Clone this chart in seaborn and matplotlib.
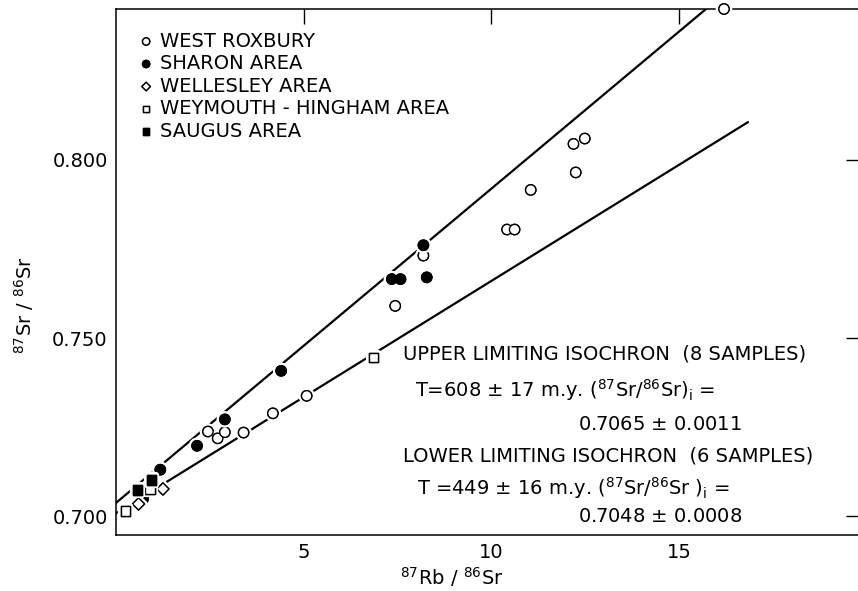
import numpy as np
import pandas as pd
import matplotlib
matplotlib.use('Agg')
import matplotlib.pyplot as plt
import matplotlib.patheffects as pe
from matplotlib.ticker import FormatStrFormatter
import seaborn as sns

# ---- data (87Rb/86Sr, 87Sr/86Sr) ----
wr_x = [2.45, 2.71, 2.90, 3.40, 4.18, 5.08, 7.44, 8.19, 10.42, 10.62, 11.05, 12.19, 12.25, 12.49, 16.2]
wr_y = [0.7238, 0.7219, 0.7236, 0.7235, 0.7289, 0.7338, 0.7590, 0.7731, 0.7804, 0.7804, 0.7915, 0.8044, 0.7964, 0.8059, 0.8422]

sharon_x = [0.72, 1.18, 2.16, 2.90, 4.40, 7.35, 7.58, 8.19, 8.28]
sharon_y = [0.7049, 0.7131, 0.7198, 0.7272, 0.7408, 0.7665, 0.7665, 0.7760, 0.7670]

wellesley_x = [0.60, 1.25]
wellesley_y = [0.7035, 0.7077]

weymouth_x = [0.25, 0.91, 6.87]
weymouth_y = [0.7015, 0.7077, 0.7446]

saugus_x = [0.58, 0.94]
saugus_y = [0.7074, 0.7102]

# isochron lines (end points as drawn)
upper_x = [0.0, 15.72]
upper_y = [0.7038, 0.8422]
lower_x = [0.0, 16.84]
lower_y = [0.7009, 0.8105]

groups = ['WEST ROXBURY', 'SHARON AREA', 'WELLESLEY AREA', 'WEYMOUTH - HINGHAM AREA', 'SAUGUS AREA']
xs = [wr_x, sharon_x, wellesley_x, weymouth_x, saugus_x]
ys = [wr_y, sharon_y, wellesley_y, weymouth_y, saugus_y]

df = pd.concat([pd.DataFrame({'rb': x, 'sr': y, 'group': g}) for g, x, y in zip(groups, xs, ys)],
               ignore_index=True)
lines = pd.concat([pd.DataFrame({'rb': upper_x, 'sr': upper_y, 'iso': 'upper'}),
                   pd.DataFrame({'rb': lower_x, 'sr': lower_y, 'iso': 'lower'})], ignore_index=True)

styles = {
    'WEST ROXBURY': dict(marker='o', color='white', s=55),
    'SHARON AREA': dict(marker='o', color='black', s=55),
    'WELLESLEY AREA': dict(marker='D', color='white', s=38),
    'WEYMOUTH - HINGHAM AREA': dict(marker='s', color='white', s=45),
    'SAUGUS AREA': dict(marker='s', color='black', s=45),
}

sns.set_style('white')
plt.rcParams['font.family'] = ['DejaVu Sans']
plt.rcParams['mathtext.fontset'] = 'dejavusans'
for k in ['text.color', 'axes.labelcolor', 'xtick.color', 'ytick.color']:
    plt.rcParams[k] = 'black'
FS = 14

W, H = 858, 591
fig = plt.figure(figsize=(W / 100, H / 100), dpi=100)
ax = fig.add_axes([116 / W, 1 - 535 / H, (861 - 116) / W, (535 - 9) / H])

sns.lineplot(data=lines, x='rb', y='sr', units='iso', estimator=None, color='black',
             linewidth=1.6, ax=ax, legend=False, zorder=2)

for g in groups:
    st = styles[g]
    sns.scatterplot(data=df[df.group == g], x='rb', y='sr', marker=st['marker'], color=st['color'],
                    s=st['s'], edgecolor='black', linewidth=1.0, label=g, ax=ax, zorder=3, clip_on=False)

for coll in ax.collections:
    coll.set_path_effects([pe.withStroke(linewidth=4.5, foreground='white'), pe.Normal()])

ax.set_xlim(0, 19.85)
ax.set_ylim(0.6948, 0.8422)
ax.set_xticks([5, 10, 15])
ax.set_yticks([0.700, 0.750, 0.800])
ax.yaxis.set_major_formatter(FormatStrFormatter('%.3f'))
ax.tick_params(direction='in', length=11, width=1, top=True, right=True, labelsize=FS, pad=6,
               colors='black')
for sp in ax.spines.values():
    sp.set_linewidth(1.1)
    sp.set_color('black')

ax.set_xlabel(r'$^{87}$Rb / $^{86}$Sr', fontsize=FS)
ax.xaxis.set_label_coords(0.451, -0.057)
ax.xaxis.label.set_va('top')
ax.set_ylabel(r'$^{87}$Sr / $^{86}$Sr', fontsize=FS)
ax.yaxis.set_label_coords(-0.108, 0.437)

leg = ax.legend(loc='upper left', bbox_to_anchor=(0.03, 0.957), frameon=False, fontsize=FS,
                handlelength=0.8, handletextpad=0.3, labelspacing=0.18, borderpad=0,
                borderaxespad=0, markerscale=0.7)

# annotation block (pixel positions from the original, baselines)
notes = [
    (403, 360, 'UPPER LIMITING ISOCHRON  (8 SAMPLES)'),
    (415, 397, r'T=608 $\pm$ 17 m.y. ($^{87}$Sr/$^{86}$Sr)$_{\rm i}$ ='),
    (578, 430, r'0.7065 $\pm$ 0.0011'),
    (403, 462, 'LOWER LIMITING ISOCHRON  (6 SAMPLES)'),
    (417, 495, r'T =449 $\pm$ 16 m.y. ($^{87}$Sr/$^{86}$Sr )$_{\rm i}$ ='),
    (578, 522, r'0.7048 $\pm$ 0.0008'),
]
for px, py, txt in notes:
    fig.text(px / W, 1 - py / H, txt, fontsize=FS, ha='left', va='baseline', color='black')

fig.savefig('out.png', dpi=100)
